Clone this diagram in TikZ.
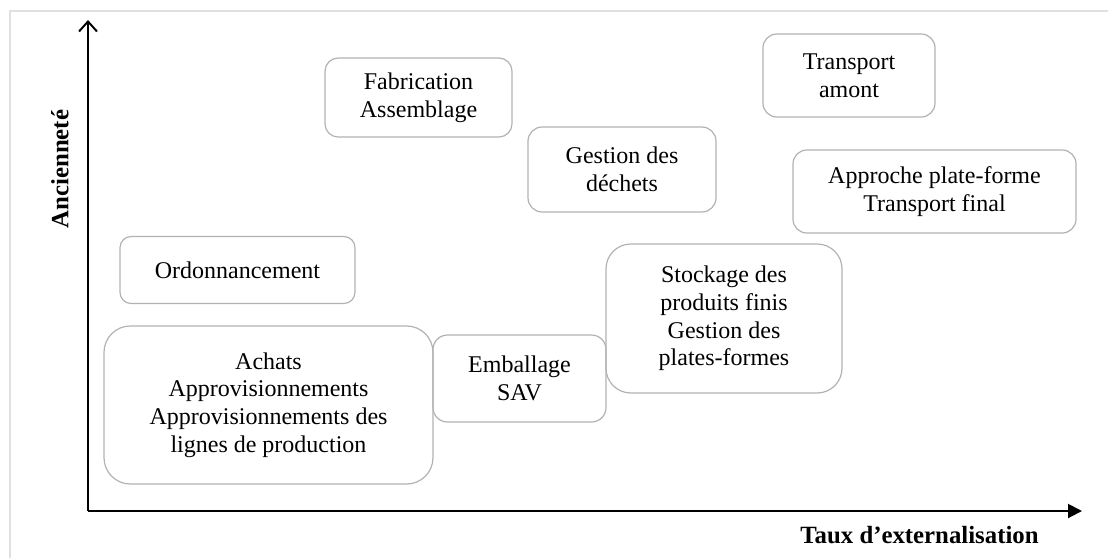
\documentclass[tikz,border=0pt]{standalone}
\usepackage{fontspec}
\setmainfont{Liberation Serif}
\usetikzlibrary{arrows.meta}
\tikzset{
	bloc/.style n args={2}{draw=black!30, line width=0.6pt, rounded corners=#2/12*1pt,
		minimum width=#1*0.5pt, minimum height=#2*0.5pt, align=center, inner sep=0pt,
		font=\fontsize{12}{13.8}\selectfont},
	axe/.style={line width=1pt},
	titre/.style={font=\fontsize{12.4}{14}\selectfont\bfseries, inner sep=0pt}
}
\begin{document}
\begin{tikzpicture}[x=0.5pt, y=-0.5pt]
	\useasboundingbox (0,0) rectangle (1108,558);
	% cadre
	\draw[black!12, line width=1pt] (10,558) -- (10,11) -- (1108,11);
	% axes
	\coordinate (O) at (88,511);
	\coordinate (Y) at (88,20);
	\coordinate (X) at (1082,511);
	\draw[axe, -{Straight Barb[length=5pt, width=9pt]}] (O) -- (Y);
	\draw[axe, -{Triangle[length=7pt, width=7pt]}] (O) -- (X);
	\node[titre, rotate=90] (anc) at (60,169) {Anciennet\'e};
	\node[titre, anchor=east] (taux) at (1039,535) {Taux d'externalisation};
	% activites
	\node[bloc={187}{79}] (fab) at (418.5,97.5) {Fabrication\\Assemblage};
	\node[bloc={172}{83}] (tam) at (849,75.5) {Transport\\amont};
	\node[bloc={188}{85}] (dech) at (622,169.5) {Gestion des\\d\'echets};
	\node[bloc={283}{83}] (appr) at (934.5,191.5) {Approche plate-forme\\Transport final};
	\node[bloc={235}{67}] (ord) at (237.5,270) {Ordonnancement};
	\node[bloc={236}{149}] (stock) at (724,318.5) {Stockage des\\produits finis\\Gestion des\\plates-formes};
	\node[bloc={173}{87}] (emb) at (519.5,378.5) {Emballage\\SAV};
	\node[bloc={329}{158}] (ach) at (268.5,405) {\raisebox{2.5pt}{\parbox{160pt}{\centering Achats\\Approvisionnements\\Approvisionnements des\\lignes de production}}};
\end{tikzpicture}
\end{document}
